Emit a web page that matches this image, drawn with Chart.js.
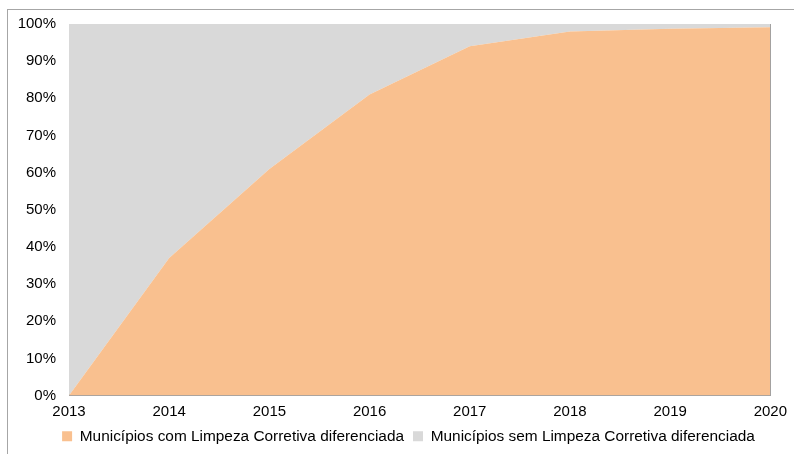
<!DOCTYPE html>
<html>
<head>
<meta charset="utf-8">
<script src="https://cdn.jsdelivr.net/npm/chart.js@4"></script>
<style>
  html, body { margin: 0; padding: 0; background: #fff; overflow: hidden; }
  #frame { position: absolute; left: 7px; top: 9px; width: 820px; height: 480px; border: 1px solid #a6a6a6; }
  #wrap { position: absolute; left: 0; top: 0; width: 794px; height: 454px; }
</style>
</head>
<body>
<div id="frame"></div>
<div id="wrap"><canvas id="chartCanvas" width="794" height="454"></canvas></div>
<script>
const years = ["2013", "2014", "2015", "2016", "2017", "2018", "2019", "2020"];
const comLimpeza = [0, 37, 61, 81, 94, 98, 98.7, 99.1];
const semLimpeza = [100, 63, 39, 19, 6, 2, 1.3, 0.9];
const labelCom = "Municípios com Limpeza Corretiva diferenciada";
const labelSem = "Municípios sem Limpeza Corretiva diferenciada";

const axisColor = "#a0a0a0";
const font = "'Liberation Sans', Arial, sans-serif";

// the legend in the original sits a bit right of centre
const shiftLegend = {
  id: "shiftLegend",
  afterLayout(chart) {
    if (chart.legend) {
      chart.legend.left += 22;
      chart.legend.right += 22;
    }
  }
};

const ctx = document.getElementById("chartCanvas").getContext("2d");
new Chart(ctx, {
  type: "line",
  data: {
    labels: years,
    datasets: [
      {
        label: labelCom,
        data: comLimpeza,
        backgroundColor: "#f9c08f",
        borderWidth: 0,
        pointRadius: 0,
        fill: "origin",
        tension: 0,
      },
      {
        label: labelSem,
        data: semLimpeza,
        backgroundColor: "#d9d9d9",
        borderWidth: 0,
        pointRadius: 0,
        fill: "-1",
        tension: 0,
      }
    ]
  },
  plugins: [shiftLegend],
  options: {
    responsive: false,
    animation: false,
    layout: { padding: { top: 24, right: 21, left: 0, bottom: 0 } },
    plugins: {
      tooltip: { enabled: false },
      legend: {
        position: "bottom",
        labels: {
          color: "#000",
          font: { family: font, size: 15.4 },
          boxWidth: 10,
          boxHeight: 10,
          padding: 9,
        }
      }
    },
    scales: {
      x: {
        offset: false,
        grid: {
          drawTicks: false,
          color: c => c.index === years.length - 1 ? axisColor : "transparent",
        },
        border: { color: axisColor, width: 1 },
        ticks: { color: "#000", font: { family: font, size: 15 }, padding: 7, maxRotation: 0 },
        afterFit: s => { s.height = 24; }
      },
      y: {
        stacked: true,
        min: 0,
        max: 100,
        grid: { display: false, drawTicks: false },
        border: { color: axisColor, width: 1 },
        ticks: {
          stepSize: 10,
          color: "#000",
          font: { family: font, size: 15 },
          padding: 13,
          callback: v => v + "%"
        },
        afterFit: s => { s.width = 69; }
      }
    }
  }
});
</script>
</body>
</html>
